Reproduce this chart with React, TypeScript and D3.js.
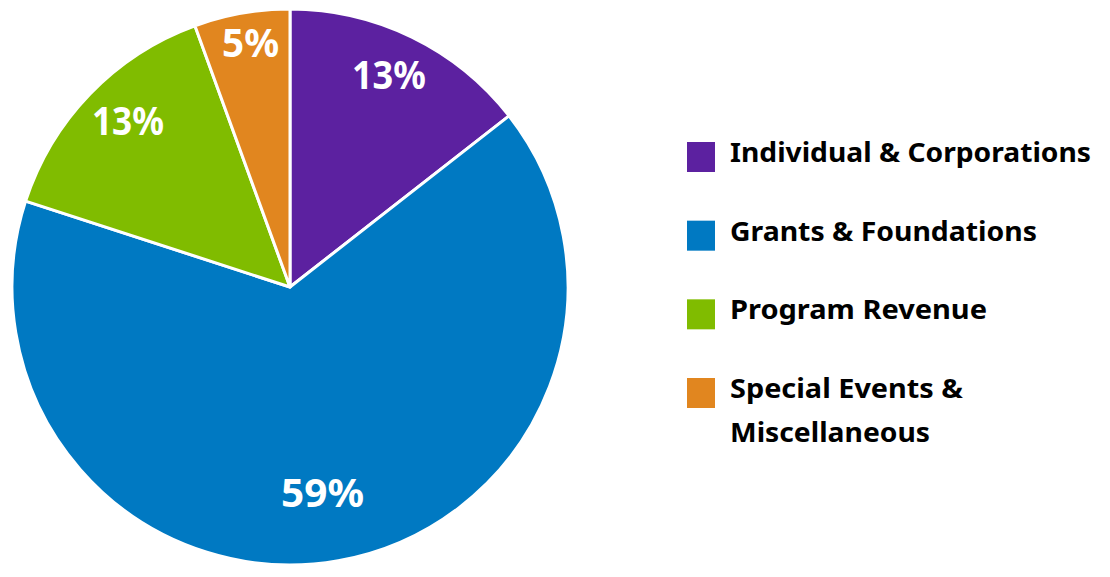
import React from "react";
import * as d3 from "d3";

const categories = [
  "Individual & Corporations",
  "Grants & Foundations",
  "Program Revenue",
  "Special Events & Miscellaneous",
];
const values = [13, 59, 13, 5];
const labels = ["13%", "59%", "13%", "5%"];
const legendLines = [
  ["Individual & Corporations"],
  ["Grants & Foundations"],
  ["Program Revenue"],
  ["Special Events &", "Miscellaneous"],
];
const colors = ["#5C21A0", "#0079C2", "#80BC00", "#E1861F"];

const W = 1110;
const H = 577;
const cx = 290;
const cy = 287;
const R = 278;
const labelRadii = [234, 208, 232, 247];
const labelAngleShift = [-1, 1, 1.7, 0.8];
const labelWidths = [74, 83, 72, 57];
const legendTextWidths = [[361], [307], [257], [233, 200]];
const FONT = "'Noto Sans', 'Open Sans', sans-serif";

export default function App() {
  const pie = d3.pie<number>().sort(null).value((d) => d);
  const arcs = pie(values);
  const arc = d3.arc<d3.PieArcDatum<number>>().innerRadius(0).outerRadius(R);

  const legendY = d3
    .scalePoint<string>()
    .domain(categories)
    .range([157, 393]);

  return (
    <svg
      width={W}
      height={H}
      style={{ position: "absolute", left: 0, top: 0, background: "#fff" }}
    >
      <g transform={`translate(${cx},${cy})`}>
        {arcs.map((a, i) => (
          <path
            key={i}
            d={arc(a) || ""}
            fill={colors[i]}
            stroke="#fff"
            strokeWidth={3}
            strokeLinejoin="round"
          />
        ))}
        {arcs.map((a, i) => {
          const mid = (a.startAngle + a.endAngle) / 2 + (labelAngleShift[i] * Math.PI) / 180;
          const r = labelRadii[i];
          const x = Math.sin(mid) * r;
          const y = -Math.cos(mid) * r;
          return (
            <text
              key={"l" + i}
              x={x}
              y={y}
              dy="0.357em"
              textAnchor="middle"
              fill="#fff"
              fontFamily={FONT}
              fontWeight={700}
              fontSize={40}
              textLength={labelWidths[i]}
              lengthAdjust="spacingAndGlyphs"
            >
              {labels[i]}
            </text>
          );
        })}
      </g>
      <g>
        {categories.map((c, i) => {
          const y = legendY(c) as number;
          return (
            <g key={c}>
              <rect x={687} y={y - 15} width={28} height={30} fill={colors[i]} />
              {legendLines[i].map((line, j) => (
                <text
                  key={j}
                  x={730}
                  y={y + 5 + j * 43.5}
                  fill="#000"
                  fontFamily={FONT}
                  fontWeight={700}
                  fontSize={27}
                  textLength={legendTextWidths[i][j]}
                  lengthAdjust="spacingAndGlyphs"
                >
                  {line}
                </text>
              ))}
            </g>
          );
        })}
      </g>
    </svg>
  );
}
